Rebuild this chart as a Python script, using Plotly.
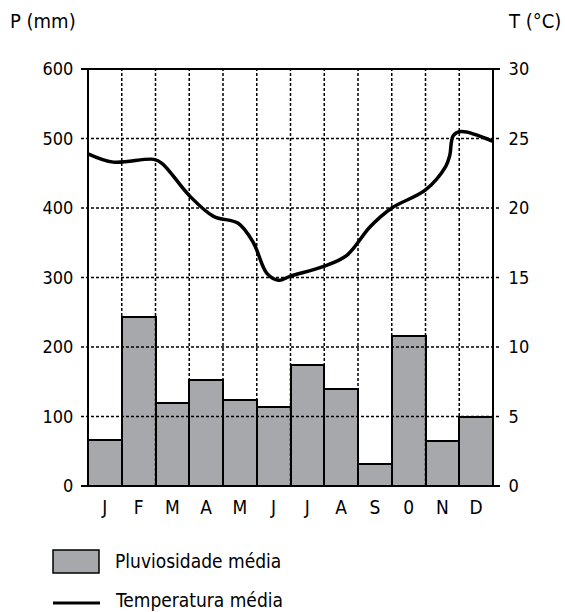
import plotly.graph_objects as go

# ---- data ----
months = ["J", "F", "M", "A", "M", "J", "J", "A", "S", "0", "N", "D"]
precip_mm = [66, 243, 119, 152, 124, 114, 174, 139, 32, 216, 65, 99]

# temperature curve readings (x in month units along the axis, 0 = start of Jan, 12 = end of Dec)
temp_x = [0.0, 0.75, 1.95, 2.2, 3.0, 3.72, 4.45, 4.9, 5.3, 5.65, 6.0, 6.98, 7.67,
          8.36, 9.0, 10.0, 10.6, 10.72, 10.82, 11.05, 12.0]
temp_c = [23.9, 23.3, 23.5, 23.2, 20.9, 19.4, 18.9, 17.5, 15.3, 14.8, 15.1, 15.8, 16.6,
          18.65, 20.0, 21.3, 23.0, 23.8, 25.2, 25.5, 24.8]

p_ticks = [0, 100, 200, 300, 400, 500, 600]
t_ticks = [0, 5, 10, 15, 20, 25, 30]

FONT = "DejaVu Sans Condensed, Liberation Sans Narrow, Arial Narrow, sans-serif"
W, H = 565, 612
ML, MR, MT, MB = 88, 72, 69, 126
PW, PH = W - ML - MR, H - MT - MB


def px(x):
    return (x - ML) / PW


def py(y):
    return (H - MB - y) / PH


centers = [i + 0.5 for i in range(len(months))]

fig = go.Figure()
fig.add_trace(go.Bar(
    x=centers, y=precip_mm, width=1.0,
    marker=dict(color="#a7a8ab", line=dict(color="black", width=2)),
    name="Pluviosidade média", showlegend=False, yaxis="y",
))
fig.add_trace(go.Scatter(
    x=temp_x, y=temp_c, mode="lines",
    line=dict(color="black", width=3.5, shape="spline", smoothing=1.0),
    name="Temperatura média", showlegend=False, yaxis="y2",
))

shapes = []
ext = 7 / PW
pmax = p_ticks[-1]
# horizontal grid lines (dotted, above bars, extending outside as ticks)
for v in p_ticks[1:-1]:
    shapes.append(dict(type="line", xref="paper", yref="paper",
                       x0=-ext, x1=1 + ext, y0=v / pmax, y1=v / pmax,
                       line=dict(color="black", width=1.5, dash="3px,2px"), layer="above"))
# top and bottom solid lines
for v in (p_ticks[0], p_ticks[-1]):
    shapes.append(dict(type="line", xref="paper", yref="paper",
                       x0=-ext, x1=1 + ext, y0=v / pmax, y1=v / pmax,
                       line=dict(color="black", width=2), layer="above"))
# vertical grid lines at month boundaries
n = len(months)
for i in range(1, n):
    shapes.append(dict(type="line", xref="paper", yref="paper",
                       x0=i / n, x1=i / n, y0=0, y1=1,
                       line=dict(color="black", width=1.5, dash="3px,2px"), layer="above"))
# left/right axis lines
for xv in (0, 1):
    shapes.append(dict(type="line", xref="paper", yref="paper",
                       x0=xv, x1=xv, y0=0, y1=1,
                       line=dict(color="black", width=2), layer="above"))

# legend
shapes.append(dict(type="rect", xref="paper", yref="paper",
                   x0=px(53), x1=px(99), y0=py(573), y1=py(550),
                   fillcolor="#a7a8ab", line=dict(color="black", width=1.5)))
shapes.append(dict(type="line", xref="paper", yref="paper",
                   x0=px(53), x1=px(100), y0=py(603), y1=py(603),
                   line=dict(color="black", width=3)))

annotations = [
    dict(text="Pluviosidade média", xref="paper", yref="paper", x=px(113), y=py(561),
         xanchor="left", yanchor="middle", showarrow=False, font=dict(size=19)),
    dict(text="Temperatura média", xref="paper", yref="paper", x=px(113), y=py(600),
         xanchor="left", yanchor="middle", showarrow=False, font=dict(size=19)),
    dict(text="P (mm)", xref="paper", yref="paper", x=px(8), y=py(21),
         xanchor="left", yanchor="middle", showarrow=False, font=dict(size=20)),
    dict(text="T (°C)", xref="paper", yref="paper", x=px(563), y=py(21),
         xanchor="right", yanchor="middle", showarrow=False, font=dict(size=20)),
]

fig.update_layout(
    width=W, height=H,
    margin=dict(l=ML, r=MR, t=MT, b=MB, autoexpand=False),
    plot_bgcolor="white", paper_bgcolor="white",
    font=dict(family=FONT, size=19, color="black"),
    bargap=0,
    xaxis=dict(range=[0, n], tickvals=centers, ticktext=months, showgrid=False,
               zeroline=False, showline=False, ticks="outside", ticklen=4,
               tickcolor="rgba(0,0,0,0)", fixedrange=True, tickfont=dict(size=19)),
    yaxis=dict(range=[0, pmax], tickvals=p_ticks, showgrid=False, zeroline=False,
               showline=False, ticks="outside", ticklen=10, tickcolor="rgba(0,0,0,0)",
               tickfont=dict(size=18)),
    yaxis2=dict(range=[t_ticks[0], t_ticks[-1]], tickvals=t_ticks, overlaying="y", side="right",
                showgrid=False, zeroline=False, showline=False, ticks="outside", ticklen=11,
                tickcolor="rgba(0,0,0,0)", tickfont=dict(size=18)),
    shapes=shapes, annotations=annotations,
)

fig.write_html("out.html", config={"displayModeBar": False},
               post_script="document.body.style.margin='0';")
